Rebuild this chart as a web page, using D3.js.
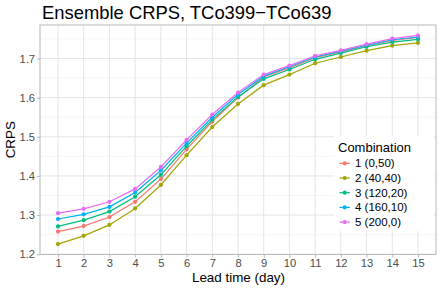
<!DOCTYPE html>
<html>
<head>
<meta charset="utf-8">
<script src="https://cdn.jsdelivr.net/npm/d3@7"></script>
<style>
  body { margin: 0; background: #fff; }
  svg { display: block; font-family: "Liberation Sans", Arial, sans-serif; }
</style>
</head>
<body>
<div id="chart"></div>
<script>
const leadDays = [1, 2, 3, 4, 5, 6, 7, 8, 9, 10, 11, 12, 13, 14, 15];
const seriesNames = ['1 (0,50)', '2 (40,40)', '3 (120,20)', '4 (160,10)', '5 (200,0)'];
const seriesColors = ['#F8766D', '#A3A500', '#00BF7D', '#00B0F6', '#E76BF3'];
const crps1 = [1.258, 1.272, 1.295, 1.334, 1.392, 1.468, 1.539, 1.600, 1.653, 1.676, 1.702, 1.717, 1.732, 1.746, 1.754];
const crps2 = [1.226, 1.247, 1.275, 1.317, 1.377, 1.453, 1.525, 1.584, 1.632, 1.659, 1.688, 1.704, 1.720, 1.733, 1.740];
const crps3 = [1.271, 1.287, 1.309, 1.347, 1.403, 1.476, 1.544, 1.602, 1.648, 1.672, 1.698, 1.714, 1.730, 1.742, 1.749];
const crps4 = [1.290, 1.302, 1.321, 1.358, 1.414, 1.484, 1.550, 1.608, 1.655, 1.679, 1.704, 1.719, 1.734, 1.748, 1.755];
const crps5 = [1.305, 1.316, 1.334, 1.367, 1.423, 1.492, 1.557, 1.613, 1.659, 1.682, 1.707, 1.721, 1.737, 1.751, 1.759];
const yTicks = [1.2, 1.3, 1.4, 1.5, 1.6, 1.7];
const yMinor = [1.25, 1.35, 1.45, 1.55, 1.65, 1.75];

const allSeries = [crps1, crps2, crps3, crps4, crps5].map((vals, i) => ({
  name: seriesNames[i], color: seriesColors[i],
  points: vals.map((v, j) => ({ day: leadDays[j], value: v })),
}));

const width = 441, height = 289;
const panel = { left: 40, right: 436, top: 25, bottom: 254.5 };

const expand = ([a, b]) => { const p = (b - a) * 0.05; return [a - p, b + p]; };
const x = d3.scaleLinear().domain(expand(d3.extent(leadDays))).range([panel.left, panel.right]);
const allVals = [crps1, crps2, crps3, crps4, crps5].flat();
const y = d3.scaleLinear().domain(expand(d3.extent(allVals))).range([panel.bottom, panel.top]);

const svg = d3.select('#chart').append('svg').attr('width', width).attr('height', height);

// grid
const grid = svg.append('g');
grid.selectAll('line.minor').data(yMinor.filter(v => y(v) > panel.top)).join('line')
  .attr('x1', panel.left).attr('x2', panel.right)
  .attr('y1', d => y(d)).attr('y2', d => y(d))
  .attr('stroke', '#F2F2F2').attr('stroke-width', 0.7);
grid.selectAll('line.hmaj').data(yTicks).join('line')
  .attr('x1', panel.left).attr('x2', panel.right)
  .attr('y1', d => y(d)).attr('y2', d => y(d))
  .attr('stroke', '#E4E4E4').attr('stroke-width', 1);
grid.selectAll('line.vmaj').data(leadDays).join('line')
  .attr('y1', panel.top).attr('y2', panel.bottom)
  .attr('x1', d => x(d)).attr('x2', d => x(d))
  .attr('stroke', '#E4E4E4').attr('stroke-width', 1);

// lines + points
const line = d3.line().x(d => x(d.day)).y(d => y(d.value));
const sg = svg.append('g').selectAll('g').data(allSeries).join('g');
sg.append('path').attr('d', d => line(d.points))
  .attr('fill', 'none').attr('stroke', d => d.color).attr('stroke-width', 1.2);
sg.selectAll('circle').data(d => d.points.map(p => ({ ...p, color: d.color }))).join('circle')
  .attr('cx', d => x(d.day)).attr('cy', d => y(d.value)).attr('r', 2.1)
  .attr('fill', d => d.color);

// panel border
svg.append('rect')
  .attr('x', panel.left).attr('y', panel.top)
  .attr('width', panel.right - panel.left).attr('height', panel.bottom - panel.top)
  .attr('fill', 'none').attr('stroke', '#B8B8B8').attr('stroke-width', 1);

// axes
const xAxis = svg.append('g').attr('transform', `translate(0,${panel.bottom})`)
  .call(d3.axisBottom(x).tickValues(leadDays).tickFormat(d3.format('d')).tickSize(3).tickPadding(2));
const yAxis = svg.append('g').attr('transform', `translate(${panel.left},0)`)
  .call(d3.axisLeft(y).tickValues(yTicks).tickFormat(d3.format('.1f')).tickSize(3).tickPadding(2));
[xAxis, yAxis].forEach(a => {
  a.select('.domain').remove();
  a.selectAll('line').attr('stroke', '#B8B8B8');
  a.selectAll('text').attr('fill', '#4D4D4D').attr('font-size', 11.2)
    .attr('font-family', '"Liberation Sans", Arial, sans-serif');
});

// titles
svg.append('text').attr('x', 42).attr('y', 19)
  .attr('font-size', 18.4).attr('fill', '#000').text('Ensemble CRPS, TCo399\u2212TCo639');
svg.append('text').attr('x', 238.5).attr('y', 281.5)
  .attr('text-anchor', 'middle').attr('font-size', 13.4).attr('fill', '#000').text('Lead time (day)');
svg.append('text').attr('transform', `translate(15,${(panel.top + panel.bottom) / 2}) rotate(-90)`)
  .attr('text-anchor', 'middle').attr('font-size', 13.4).attr('fill', '#000').text('CRPS');

// legend
const lg = svg.append('g').attr('transform', 'translate(334,136)');
lg.append('rect').attr('width', 100).attr('height', 95).attr('fill', '#fff');
lg.append('text').attr('x', 4).attr('y', 15.5).attr('font-size', 13).attr('fill', '#000').text('Combination');
const items = lg.selectAll('g.item').data(allSeries).join('g')
  .attr('transform', (d, i) => `translate(0,${27.3 + i * 14.7})`);
items.append('line').attr('x1', 5.5).attr('x2', 16).attr('stroke', d => d.color).attr('stroke-width', 1.2);
items.append('circle').attr('cx', 10.7).attr('r', 2.1).attr('fill', d => d.color);
items.append('text').attr('x', 21).attr('dy', '0.35em').attr('font-size', 11.5).attr('fill', '#000')
  .text(d => d.name);
</script>
</body>
</html>
